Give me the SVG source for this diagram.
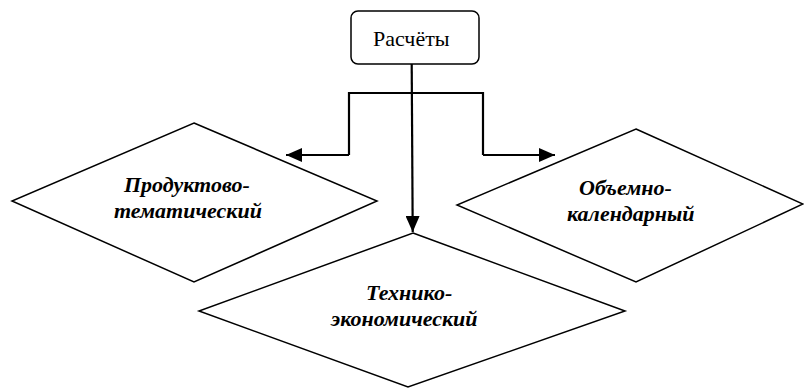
<svg xmlns="http://www.w3.org/2000/svg" width="804" height="388" viewBox="0 0 804 388">
<defs>
<style>
.shape{fill:#fff;stroke:#000;stroke-width:1.5}
.conn{fill:none;stroke:#000;stroke-width:2.2}
</style>
<marker id="arr" viewBox="0 0 16 14" refX="16" refY="7" markerWidth="16" markerHeight="14" markerUnits="userSpaceOnUse" orient="auto">
<path d="M0,0 L16,7 L0,14 Z" fill="#000"/>
</marker>
</defs>
<rect width="804" height="388" fill="#fff"/>
<g id="node-left">
<polygon class="shape" points="194,123 377,201 194,282 12,201"/>
<text x="124" y="192" font-family="Liberation Serif" font-size="22" font-weight="bold" font-style="italic">Продуктово-</text>
<text x="114" y="218" font-family="Liberation Serif" font-size="22" font-weight="bold" font-style="italic">тематический</text>
</g>
<g id="node-right">
<polygon class="shape" points="636,129 803,204 636,282 457,205"/>
<text x="579" y="195" font-family="Liberation Serif" font-size="22" font-weight="bold" font-style="italic">Объемно-</text>
<text x="567" y="221" font-family="Liberation Serif" font-size="22" font-weight="bold" font-style="italic">календарный</text>
</g>
<g id="node-bottom">
<polygon class="shape" points="413,233 625,311 408,387 199,311"/>
<text x="366" y="300" font-family="Liberation Serif" font-size="22" font-weight="bold" font-style="italic">Технико-</text>
<text x="331" y="326" font-family="Liberation Serif" font-size="22" font-weight="bold" font-style="italic">экономический</text>
</g>
<g id="node-top">
<rect class="shape" x="351" y="11" width="128" height="53" rx="7" ry="7"/>
<text x="373" y="46" font-family="Liberation Serif" font-size="22">Расчёты</text>
</g>
<g id="connectors">
<polyline class="conn" points="349,155 349,93 483,93 483,155"/>
<line class="conn" x1="349" y1="155" x2="286" y2="155" marker-end="url(#arr)"/>
<line class="conn" x1="483" y1="155" x2="555" y2="155" marker-end="url(#arr)"/>
<line class="conn" x1="411.7" y1="64" x2="412.7" y2="232" marker-end="url(#arr)"/>
</g>
</svg>
